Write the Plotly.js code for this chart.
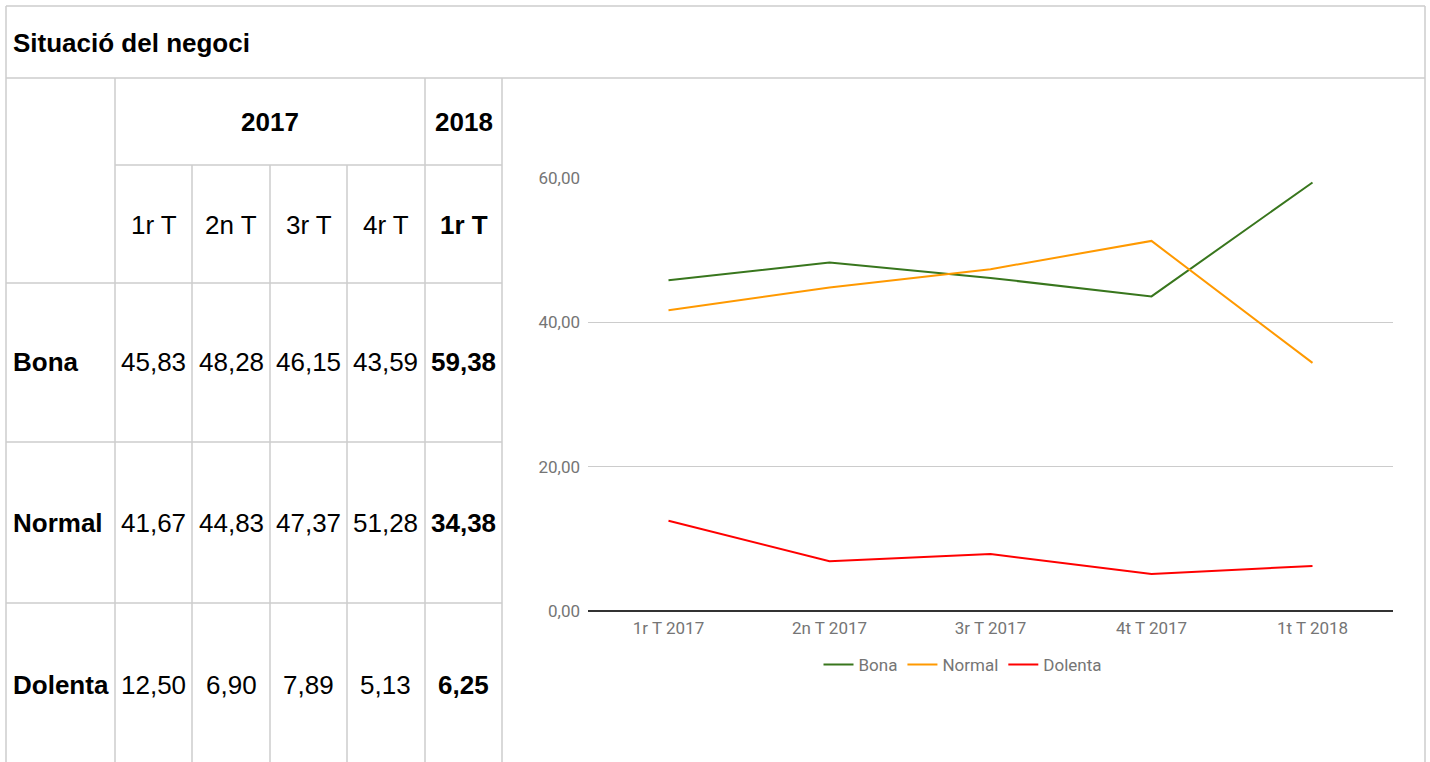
<!DOCTYPE html>
<html>
<head>
<meta charset="utf-8">
<script src="https://cdn.plot.ly/plotly-3.0.1.min.js"></script>
<style>
html,body{margin:0;padding:0;background:#fff;}
#chart{width:1430px;height:762px;}
</style>
</head>
<body>
<div id="chart"></div>
<script>
// ---- data ----
var tableTitle = 'Situació del negoci';
var years = ['2017', '2018'];
var quarters = ['1r T', '2n T', '3r T', '4r T', '1r T'];
var seriesNames = ['Bona', 'Normal', 'Dolenta'];
var chartCategories = ['1r T 2017', '2n T 2017', '3r T 2017', '4t T 2017', '1t T 2018'];
var bona = [45.83, 48.28, 46.15, 43.59, 59.38];
var normal = [41.67, 44.83, 47.37, 51.28, 34.38];
var dolenta = [12.50, 6.90, 7.89, 5.13, 6.25];
var seriesColors = ['#38761d', '#ff9900', '#ff0000'];

// ---- layout helpers ----
var W = 1430, H = 762;
function px(x) { return x / W; }
function py(y) { return 1 - y / H; }
function fmt(v) { return v.toFixed(2).replace('.', ','); }

var gridColor = '#cccccc';
var shapes = [];
function hline(y, x0, x1) {
  shapes.push({type: 'line', xref: 'paper', yref: 'paper', x0: px(x0), x1: px(x1), y0: py(y), y1: py(y),
    line: {color: gridColor, width: 1.5}});
}
function vline(x, y0, y1) {
  shapes.push({type: 'line', xref: 'paper', yref: 'paper', x0: px(x), x1: px(x), y0: py(y0), y1: py(y1),
    line: {color: gridColor, width: 1.5}});
}
// outer frame and title row
hline(6, 6, 1425);
vline(6, 6, 762);
vline(1425, 6, 762);
hline(78, 6, 1425);
// table grid
var colX = [6, 115, 192, 270, 347, 425, 502];
vline(115, 78, 762);
vline(425, 78, 762);
vline(502, 78, 762);
vline(192, 165, 762);
vline(270, 165, 762);
vline(347, 165, 762);
hline(165, 115, 502);
hline(283, 6, 502);
hline(442, 6, 502);
hline(603, 6, 502);

var annotations = [];
var tFont = 'Liberation Sans, Arial, sans-serif';
function txt(t, x, y, anchor, bold, size) {
  annotations.push({xref: 'paper', yref: 'paper', x: px(x), y: py(y), xanchor: anchor, yanchor: 'middle',
    text: bold ? '<b>' + t + '</b>' : t, showarrow: false, borderpad: 0,
    font: {family: tFont, size: size || 26, color: '#000000'}});
}
txt(tableTitle, 12, 43, 'left', true, 26);
txt(years[0], (colX[1] + colX[5]) / 2, 122, 'center', true);
txt(years[1], (colX[5] + colX[6]) / 2, 122, 'center', true);
for (var i = 0; i < quarters.length; i++) {
  txt(quarters[i], (colX[i + 1] + colX[i + 2]) / 2, 225, 'center', i === quarters.length - 1);
}
var rows = [bona, normal, dolenta];
var rowCenters = [362, 523, 685];
for (var r = 0; r < rows.length; r++) {
  txt(seriesNames[r], 12, rowCenters[r], 'left', true);
  for (var c = 0; c < rows[r].length; c++) {
    txt(fmt(rows[r][c]), (colX[c + 1] + colX[c + 2]) / 2, rowCenters[r], 'center', c === rows[r].length - 1);
  }
}

var traces = [bona, normal, dolenta].map(function (vals, k) {
  return {
    type: 'scatter', mode: 'lines', name: seriesNames[k], x: chartCategories, y: vals,
    line: {color: seriesColors[k], width: 2}, hoverinfo: 'x+y+name'
  };
});

var chartFont = 'Roboto, sans-serif';
var layout = {
  width: W, height: H,
  margin: {l: 0, r: 0, t: 0, b: 0},
  paper_bgcolor: '#ffffff', plot_bgcolor: '#ffffff',
  separators: ',.',
  showlegend: true,
  xaxis: {
    domain: [px(588), px(1393)], type: 'category', range: [-0.5, 4.5],
    showgrid: false, zeroline: false, showline: false, ticks: '',
    tickfont: {family: chartFont, size: 17, color: '#757575'}, ticklabelstandoff: 5,
    fixedrange: true
  },
  yaxis: {
    domain: [py(611), py(178)], range: [0, 60], tickmode: 'linear', tick0: 0, dtick: 20,
    tickformat: '.2f', showgrid: true, gridcolor: '#cccccc', gridwidth: 1,
    zeroline: true, zerolinecolor: '#333333', zerolinewidth: 1.5, showline: false, ticks: '',
    tickfont: {family: chartFont, size: 17, color: '#757575'}, ticklabelstandoff: 7,
    fixedrange: true
  },
  legend: {
    orientation: 'h', x: px(963), xanchor: 'center', y: py(665), yanchor: 'middle',
    font: {family: chartFont, size: 17, color: '#757575'}, itemwidth: 30, bgcolor: 'rgba(0,0,0,0)'
  },
  shapes: shapes,
  annotations: annotations
};

Plotly.newPlot('chart', traces, layout, {displayModeBar: false, staticPlot: true});
</script>
</body>
</html>
